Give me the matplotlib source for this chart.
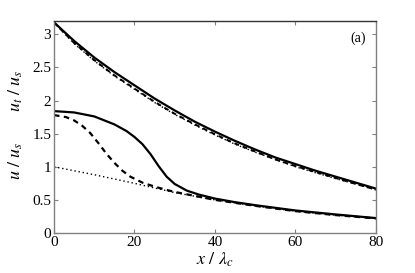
import numpy as np
import matplotlib
matplotlib.use("Agg")
import matplotlib.pyplot as plt

plt.rcParams['font.family'] = 'Liberation Serif'
plt.rcParams['mathtext.fontset'] = 'stix'

# upper group: u_t / u_s
xu = [0, 5, 10, 15, 20, 25, 30, 35, 40, 45, 50, 55, 60, 65, 70, 75, 80]
ut_solid = [3.18, 2.90, 2.65, 2.43, 2.23, 2.03, 1.85, 1.68, 1.53, 1.39, 1.26, 1.14, 1.04, 0.94, 0.85, 0.76, 0.67]
ut_dashed = [3.18, 2.87, 2.61, 2.38, 2.18, 1.98, 1.80, 1.64, 1.49, 1.35, 1.23, 1.11, 1.01, 0.92, 0.83, 0.74, 0.655]
ut_dotted = [3.18, 2.86, 2.60, 2.37, 2.17, 1.97, 1.79, 1.63, 1.48, 1.34, 1.22, 1.11, 1.00, 0.91, 0.82, 0.74, 0.65]

# lower group: u / u_s
xs = [0, 5, 10, 15, 18, 20, 22, 24, 25, 26, 27, 28, 30, 33, 36, 40, 45, 50, 60, 70, 80]
u_solid = [1.84, 1.82, 1.76, 1.64, 1.54, 1.45, 1.34, 1.19, 1.10, 1.01, 0.93, 0.85, 0.74, 0.64, 0.58, 0.52, 0.465, 0.42, 0.34, 0.28, 0.225]
xd = [0, 3, 5, 7, 9, 11, 13, 15, 17, 19, 22, 25, 28, 30, 35, 40, 50, 60, 70, 80]
u_dashed = [1.78, 1.75, 1.70, 1.62, 1.51, 1.36, 1.20, 1.06, 0.94, 0.85, 0.76, 0.70, 0.65, 0.62, 0.56, 0.50, 0.41, 0.33, 0.27, 0.22]
xo = [0, 10, 20, 30, 40, 50, 60, 70, 80]
u_dotted = [1.00, 0.88, 0.75, 0.61, 0.50, 0.41, 0.33, 0.27, 0.22]

fig = plt.figure(figsize=(4.15, 2.73), dpi=100)
ax = fig.add_axes([0.130, 0.1465, 0.776, 0.7765])

ax.plot(xu, ut_dotted, color='k', lw=1.0, ls=(0, (1, 2)))
ax.plot(xu, ut_dashed, color='k', lw=1.4, ls=(0, (2.5, 2)))
ax.plot(xu, ut_solid, color='k', lw=1.6)

ax.plot(xo, u_dotted, color='k', lw=1.0, ls=(0, (1, 2)))
ax.plot(xd, u_dashed, color='k', lw=1.6, ls=(0, (2.5, 2)))
ax.plot(xs, u_solid, color='k', lw=1.6)

ax.set_xlim(0, 80)
ax.set_ylim(0, 3.2)
ax.set_xticks([0, 20, 40, 60, 80])
ax.set_yticks([0, 0.5, 1, 1.5, 2, 2.5, 3])
ax.set_yticklabels(['0', '0.5', '1', '1.5', '2', '2.5', '3'])
ax.tick_params(direction='in', length=3, top=True, right=True, color='#808080',
               labelsize=11, pad=2)

for s in ['left', 'bottom', 'right']:
    ax.spines[s].set_color('#808080')
ax.spines['top'].set_color('#333333')
for s in ax.spines.values():
    s.set_linewidth(1.0)

ax.set_xlabel(r'$x\ /\ \lambda_c$', fontsize=13, labelpad=1)
ax.text(-0.12, 0.67, r'$u_t\ /\ u_s$', transform=ax.transAxes, rotation=90,
        fontsize=13, ha='center', va='center')
ax.text(-0.12, 0.34, r'$u\ /\ u_s$', transform=ax.transAxes, rotation=90,
        fontsize=13, ha='center', va='center')
ax.text(77.5, 2.94, '(a)', fontsize=10, ha='right', va='center')

fig.savefig('out.png', dpi=100)
